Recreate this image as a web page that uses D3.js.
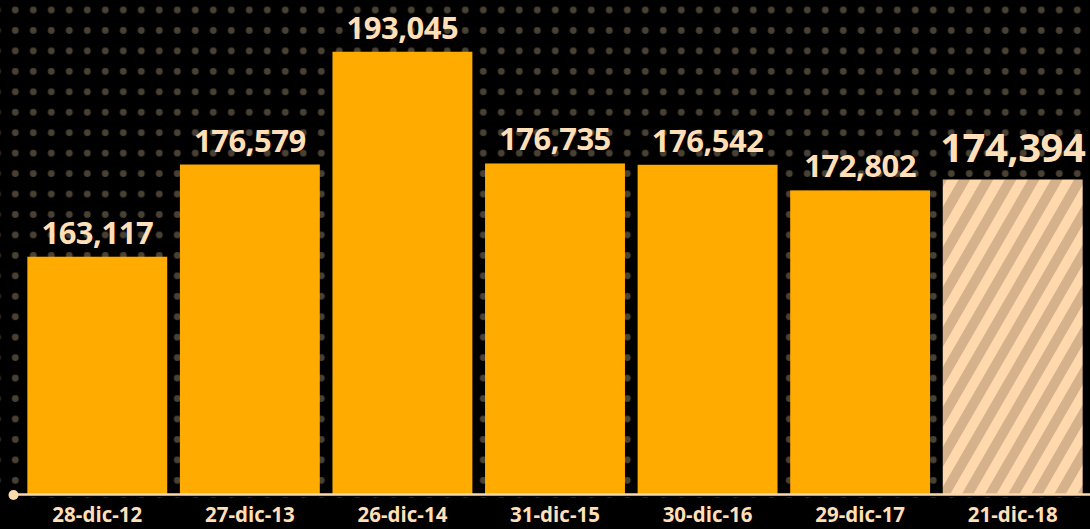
<!DOCTYPE html>
<html>
<head>
<meta charset="utf-8">
<script src="https://cdn.jsdelivr.net/npm/d3@7"></script>
<style>
  html, body { margin: 0; padding: 0; background: #000; }
  svg { display: block; }
  text { font-family: "Open Sans", sans-serif; font-weight: 700; }
</style>
</head>
<body>
<div id="chart"></div>
<script>
const dates = ["28-dic-12", "27-dic-13", "26-dic-14", "31-dic-15", "30-dic-16", "29-dic-17", "21-dic-18"];
const values = [163117, 176579, 193045, 176735, 176542, 172802, 174394];
const highlight = [false, false, false, false, false, false, true];

const width = 1090, height = 529;
const baseY = 494.5;

const svg = d3.select("#chart").append("svg").attr("width", width).attr("height", height);
svg.append("rect").attr("width", width).attr("height", height).attr("fill", "#000");

const defs = svg.append("defs");
const dots = defs.append("pattern")
  .attr("id", "dots").attr("patternUnits", "userSpaceOnUse")
  .attr("x", 6.3).attr("y", -0.225).attr("width", 18).attr("height", 20.45);
dots.append("circle").attr("cx", 9).attr("cy", 10.225).attr("r", 3.4).attr("fill", "#4a4135");

const hatch = defs.append("pattern")
  .attr("id", "hatch").attr("patternUnits", "userSpaceOnUse")
  .attr("width", 20).attr("height", 20).attr("patternTransform", "rotate(30)");
hatch.append("rect").attr("width", 20).attr("height", 20).attr("fill", "#ffd9ad");
hatch.append("rect").attr("width", 10).attr("height", 20).attr("fill", "#d5b18c");

svg.append("rect").attr("width", width).attr("height", 498).attr("fill", "url(#dots)");

const x = d3.scaleBand().domain(dates).range([21, 1089]).paddingInner(0.083).paddingOuter(0.0415);
const y = d3.scaleLinear().domain([128400, 200600]).range([baseY, 0]);

const data = dates.map((d, i) => ({ date: d, value: values[i], proj: highlight[i] }));

svg.append("g").selectAll("rect").data(data).join("rect")
  .attr("x", (d) => x(d.date))
  .attr("y", (d) => y(d.value))
  .attr("width", x.bandwidth())
  .attr("height", (d) => baseY - y(d.value))
  .attr("fill", (d) => (d.proj ? "url(#hatch)" : "#ffab00"));

svg.append("g").selectAll("text").data(data).join("text")
  .attr("x", (d) => x(d.date) + x.bandwidth() / 2)
  .attr("y", (d) => y(d.value) - (d.proj ? 17 : 13))
  .attr("text-anchor", "middle")
  .attr("fill", "#ffdfb8")
  .attr("font-size", (d) => (d.proj ? 40 : 31))
  .attr("letter-spacing", -0.5)
  .text((d) => d3.format(",")(d.value));

// baseline
svg.append("line").attr("x1", 13.5).attr("x2", width).attr("y1", baseY).attr("y2", baseY)
  .attr("stroke", "#ffd9ae").attr("stroke-width", 2.5);
svg.append("circle").attr("cx", 13.5).attr("cy", baseY + 0.5).attr("r", 5).attr("fill", "#ffd9ae");

const xAxis = d3.axisBottom(x).tickSize(0).tickPadding(0);
const gx = svg.append("g").attr("transform", `translate(0,${baseY})`).call(xAxis);
gx.select(".domain").remove();
gx.selectAll("text")
  .attr("dy", null).attr("y", 27.5)
  .attr("fill", "#ffdfb8")
  .attr("font-size", 20.5)
  .attr("font-family", "'Open Sans', sans-serif")
  .attr("font-weight", 700);
</script>
</body>
</html>
